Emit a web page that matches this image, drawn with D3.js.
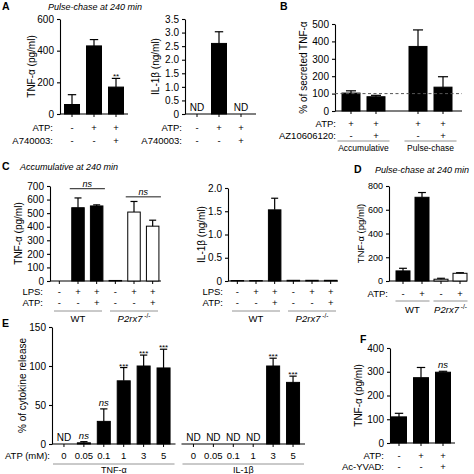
<!DOCTYPE html>
<html lang="en">
  <head>
    <meta charset="UTF-8" />
    <title>d3</title>
    <script src="https://d3js.org/d3.v7.min.js"></script>
    <style>
      body { margin: 0; background: #fff; }
      svg text { font-family: "Liberation Sans", Arial, sans-serif; fill: #000; }
      .axis path, .axis line { stroke: #000; stroke-width: 1.1; }
      .axis text { font-size: 10px; }
    </style>
  </head>
  <body></body>
  <script type="text/javascript">
    var width = 474,
      height = 474;

    // A: pulse-chase at 240 min
    var aAtp = ['-', '+', '+'];
    var aInhib = ['-', '-', '+'];
    var aTnf = [60, 430, 170];
    var aTnfErr = [62, 40, 55];
    var aTnfSig = ['', '', '**'];
    var aIl1b = [null, 2.6, null];
    var aIl1bErr = [0, 0.43, 0];

    // B: % of secreted TNF
    var bGroups = ['Accumulative', 'Pulse-chase'];
    var bAtp = ['+', '+', '+', '+'];
    var bAz = ['-', '+', '-', '+'];
    var bVals = [[103, 82], [371, 137]];
    var bErr = [[13, 8], [95, 60]];

    // C: accumulative at 240 min, WT vs P2rx7-/-
    var cGroups = ['WT', 'P2rx7'];
    var cLps = ['-', '+', '+', '-', '+', '+'];
    var cAtp = ['-', '-', '+', '-', '-', '+'];
    var cTnf = [[0, 540, 553], [4, 508, 404]];
    var cTnfErr = [[0, 72, 8], [0, 78, 44]];
    var cBracket = [680, 620];
    var cIl1b = [[0.01, 0.01, 1.53], [0.015, 0.015, 0.015]];
    var cIl1bErr = [[0, 0, 0.25], [0, 0, 0]];

    // D: pulse-chase at 240 min
    var dGroups = ['WT', 'P2rx7'];
    var dAtp = ['-', '+', '-', '+'];
    var dTnf = [[85, 705], [15, 65]];
    var dErr = [[22, 40], [8, 5]];

    // E: ATP dose response
    var eGroups = ['TNF-α', 'IL-1β'];
    var eDoses = ['0', '0.05', '0.1', '1', '3', '5'];
    var eVals = [[null, 1.5, 29, 81, 100, 97.5], [null, null, null, null, 100, 79]];
    var eErr = [[0, 1.5, 16, 17, 14, 24], [0, 0, 0, 0, 10, 8]];
    var eSig = [['', 'ns', 'ns', '***', '***', '***'], ['', '', '', '', '***', '***']];

    // F: caspase-1 inhibitor
    var fAtp = ['-', '+', '+'];
    var fYvad = ['-', '-', '+'];
    var fTnf = [110, 275, 298];
    var fErr = [15, 43, 4];
    var fSig = ['', '', 'ns'];

    var svg = d3.select('body').append('svg')
      .attr('width', width)
      .attr('height', height);

    // band scale with bars of w px centred in equal slots
    function slots(keys, r0, r1, w) {
      var step = (r1 - r0) / keys.length;
      var p = 1 - w / step;
      return d3.scaleBand().domain(keys).range([r0, r1]).paddingInner(p).paddingOuter(p / 2);
    }

    function panel(c) {
      var y = d3.scaleLinear().domain([0, c.max]).range([c.y0, c.y1]);
      var outer = d3.scaleBand()
        .domain(d3.range(c.values.length))
        .range(c.range)
        .paddingInner(c.groupPad || 0);
      var items = [];
      c.values.forEach(function (vals, gi) {
        var gx = outer(gi);
        var inner = slots(d3.range(vals.length), gx, gx + outer.bandwidth(), c.barW);
        vals.forEach(function (v, bi) {
          items.push({
            gi: gi,
            x: inner(bi),
            w: inner.bandwidth(),
            cx: inner(bi) + inner.bandwidth() / 2,
            v: v,
            e: c.errs ? c.errs[gi][bi] : 0,
            sig: c.sig ? c.sig[gi][bi] : '',
            fill: c.fills ? c.fills[gi] : '#000'
          });
        });
      });

      var g = svg.append('g');
      if (c.ticks) {
        var ax = g.append('g')
          .attr('class', 'axis')
          .attr('transform', 'translate(' + c.axisX + ',0)')
          .call(d3.axisLeft(y).tickValues(c.ticks).tickSize(3).tickSizeOuter(0)
            .tickFormat(c.fmt || d3.format('d')));
        if (c.tickFont) ax.selectAll('text').style('font-size', c.tickFont + 'px');
      }

      // baseline
      if (c.split) {
        outer.domain().forEach(function (gi) {
          g.append('line')
            .attr('x1', outer(gi) - 2).attr('x2', outer(gi) + outer.bandwidth() + 2)
            .attr('y1', y(0)).attr('y2', y(0))
            .attr('stroke', '#000').attr('stroke-width', 1.1);
        });
      } else {
        g.append('line')
          .attr('x1', c.axisX).attr('x2', c.axisEnd)
          .attr('y1', y(0)).attr('y2', y(0))
          .attr('stroke', '#000').attr('stroke-width', 1.1);
      }

      items.forEach(function (d) {
        g.append('line')
          .attr('x1', d.cx).attr('x2', d.cx)
          .attr('y1', y(0)).attr('y2', y(0) + 3)
          .attr('stroke', '#000').attr('stroke-width', 1);
        if (d.v === null) {
          g.append('text').attr('x', d.cx).attr('y', y(0) - 3)
            .attr('text-anchor', 'middle').style('font-size', '10px').text('ND');
          return;
        }
        g.append('rect')
          .attr('x', d.x).attr('y', y(d.v))
          .attr('width', d.w).attr('height', Math.max(0, y(0) - y(d.v)))
          .attr('fill', d.fill).attr('stroke', '#000').attr('stroke-width', 1);
        var top = y(d.v + d.e);
        if (d.e > 0) {
          g.append('line').attr('x1', d.cx).attr('x2', d.cx)
            .attr('y1', y(d.v)).attr('y2', top)
            .attr('stroke', '#000').attr('stroke-width', 1.2);
          g.append('line').attr('x1', d.cx - d.w * 0.28).attr('x2', d.cx + d.w * 0.28)
            .attr('y1', top).attr('y2', top)
            .attr('stroke', '#000').attr('stroke-width', 1.2);
        }
        if (d.sig === 'ns') {
          g.append('text').attr('x', d.cx).attr('y', top - 3)
            .attr('text-anchor', 'middle').style('font-size', '9.5px')
            .style('font-style', 'italic').text('ns');
        } else if (d.sig) {
          g.append('text').attr('x', d.cx).attr('y', top + 1)
            .attr('text-anchor', 'middle').style('font-size', '8px').text(d.sig);
        }
      });

      if (c.yLabel) {
        g.append('text')
          .attr('transform', 'translate(' + c.yLabelX + ',' + (c.y0 + c.y1) / 2 + ') rotate(-90)')
          .attr('text-anchor', 'middle').style('font-size', (c.labelFont || 10) + 'px').text(c.yLabel);
      }
      return { y: y, outer: outer, items: items, g: g };
    }

    function signRows(p, rows, labelX) {
      rows.forEach(function (r) {
        p.g.append('text').attr('x', labelX).attr('y', r.y)
          .attr('text-anchor', 'end').style('font-size', '9.5px').text(r.label);
        p.items.forEach(function (d, i) {
          p.g.append('text').attr('x', d.cx).attr('y', r.y)
            .attr('text-anchor', 'middle').style('font-size', '9.5px').text(r.signs[i]);
        });
      });
    }

    function groupLabels(p, names, lineY, textY, inset, size, shift) {
      names.forEach(function (n, gi) {
        var x0 = p.outer(gi) + inset,
          x1 = p.outer(gi) + p.outer.bandwidth() - inset;
        p.g.append('line').attr('x1', x0).attr('x2', x1)
          .attr('y1', lineY).attr('y2', lineY)
          .attr('stroke', '#888').attr('stroke-width', 0.9);
        var t = p.g.append('text').attr('x', (x0 + x1) / 2 + (shift ? shift[gi] : 0)).attr('y', textY)
          .attr('text-anchor', 'middle').style('font-size', size + 'px');
        if (n === 'P2rx7') {
          t.append('tspan').style('font-style', 'italic').text('P2rx7');
          t.append('tspan').attr('dy', -4).style('font-size', '6.5px').text(' -/-');
        } else {
          t.text(n);
        }
      });
    }

    function title(x, y, letter, tx, text) {
      svg.append('text').attr('x', x).attr('y', y)
        .style('font-size', '10.5px').style('font-weight', 'bold').text(letter);
      if (text) {
        svg.append('text').attr('x', tx).attr('y', y)
          .style('font-size', '9px').style('font-style', 'italic').text(text);
      }
    }

    var oneDec = function (d) { return d === 0 ? '0' : d3.format('.1f')(d); };

    // ---- A ----
    title(2, 10, 'A', 48, 'Pulse-chase at 240 min');
    var pa1 = panel({
      values: [aTnf], errs: [aTnfErr], sig: [aTnfSig],
      max: 600, y0: 114, y1: 19, axisX: 60, axisEnd: 128,
      ticks: [0, 200, 400, 600], range: [61, 127], barW: 15,
      yLabel: 'TNF-α (pg/ml)', yLabelX: 35
    });
    signRows(pa1, [{ label: 'ATP:', y: 131, signs: aAtp }, { label: 'A740003:', y: 144, signs: aInhib }], 53);

    var pa2 = panel({
      values: [aIl1b], errs: [aIl1bErr],
      max: 3.5, y0: 114, y1: 19, axisX: 185, axisEnd: 256,
      ticks: d3.range(0, 3.51, 0.5), fmt: oneDec, range: [186, 252], barW: 15,
      yLabel: 'IL-1β (ng/ml)', yLabelX: 159
    });
    signRows(pa2, [{ label: 'ATP:', y: 131, signs: aAtp }, { label: 'A740003:', y: 144, signs: aInhib }], 182);

    // ---- B ----
    title(280, 10, 'B');
    var pb = panel({
      values: bVals, errs: bErr,
      max: 500, y0: 111, y1: 24, axisX: 335, axisEnd: 462,
      ticks: [0, 100, 200, 300, 400, 500], range: [338.5, 455.5], groupPad: 0.254, barW: 18,
      yLabel: '% of secreted TNF-α', yLabelX: 307
    });
    pb.g.append('line')
      .attr('x1', 335).attr('x2', 462)
      .attr('y1', pb.y(100)).attr('y2', pb.y(100))
      .attr('stroke', '#555').attr('stroke-width', 1).attr('stroke-dasharray', '3,2.5');
    signRows(pb, [{ label: 'ATP:', y: 127, signs: bAtp }, { label: 'AZ10606120:', y: 139, signs: bAz }], 336);
    groupLabels(pb, bGroups, 141, 150.5, -1, 8.5);

    // ---- C ----
    title(2, 170, 'C', 20, 'Accumulative at 240 min');
    var pc1 = panel({
      values: cTnf, errs: cTnfErr, fills: ['#000', '#fff'],
      max: 700, y0: 281, y1: 186, axisX: 50, axisEnd: 161,
      ticks: d3.range(0, 701, 100), range: [50, 162], barW: 12.5,
      yLabel: 'TNF-α (pg/ml)', yLabelX: 22
    });
    cBracket.forEach(function (b, gi) {
      var its = pc1.items.filter(function (d) { return d.gi === gi; });
      var x0 = its[1].x - 2, x1 = its[2].x + its[2].w + 2;
      pc1.g.append('line').attr('x1', x0).attr('x2', x1)
        .attr('y1', pc1.y(b)).attr('y2', pc1.y(b))
        .attr('stroke', '#000').attr('stroke-width', 0.9);
      pc1.g.append('text').attr('x', (x0 + x1) / 2).attr('y', pc1.y(b) - 2)
        .attr('text-anchor', 'middle').style('font-size', '9px')
        .style('font-style', 'italic').text('ns');
    });
    signRows(pc1, [{ label: 'LPS:', y: 295, signs: cLps }, { label: 'ATP:', y: 306, signs: cAtp }], 43);
    groupLabels(pc1, cGroups, 311, 322, 4, 9.5);

    var pc2 = panel({
      values: cIl1b, errs: cIl1bErr, fills: ['#000', '#fff'],
      max: 2, y0: 281, y1: 188, axisX: 228, axisEnd: 338,
      ticks: [0, 0.5, 1, 1.5, 2], fmt: oneDec, range: [228, 340], barW: 12.5,
      yLabel: 'IL-1β (ng/ml)', yLabelX: 205
    });
    signRows(pc2, [{ label: 'LPS:', y: 295, signs: cLps }, { label: 'ATP:', y: 306, signs: cAtp }], 223);
    groupLabels(pc2, cGroups, 311, 322, 4, 9.5);

    // ---- D ----
    title(354, 173, 'D', 375, 'Pulse-chase at 240 min');
    var pd = panel({
      values: dTnf, errs: dErr, fills: ['#000', '#fff'],
      max: 800, y0: 281, y1: 186, axisX: 389, axisEnd: 467,
      ticks: [0, 200, 400, 600, 800], tickFont: 9, range: [393.5, 469.5], groupPad: 0, barW: 14,
      yLabel: 'TNF-α (pg/ml)', yLabelX: 364, labelFont: 9.5
    });
    signRows(pd, [{ label: 'ATP:', y: 297, signs: dAtp }], 388);
    groupLabels(pd, dGroups, 301, 313, 2, 9.5, [0, 0]);

    // ---- E ----
    title(2, 327, 'E');
    var pe = panel({
      values: eVals, errs: eErr, sig: eSig,
      max: 150, y0: 444, y1: 327, axisX: 52, split: true,
      ticks: [0, 50, 100, 150], range: [54, 303], groupPad: 0.077, barW: 13,
      yLabel: '% of cytokine release', yLabelX: 26
    });
    pe.g.append('text').attr('x', 50).attr('y', 459)
      .attr('text-anchor', 'end').style('font-size', '9.5px').text('ATP (mM):');
    pe.items.forEach(function (d, i) {
      pe.g.append('text').attr('x', d.cx).attr('y', 459)
        .attr('text-anchor', 'middle').style('font-size', '9.5px').text(eDoses[i % eDoses.length]);
    });
    groupLabels(pe, eGroups, 464, 473, -1, 9);

    // ---- F ----
    title(360, 343, 'F');
    var pf = panel({
      values: [fTnf], errs: [fErr], sig: [fSig],
      max: 400, y0: 443, y1: 348, axisX: 390, axisEnd: 455,
      ticks: [0, 100, 200, 300, 400], range: [388, 454], barW: 15,
      yLabel: 'TNF-α (pg/ml)', yLabelX: 362
    });
    signRows(pf, [{ label: 'ATP:', y: 459, signs: fAtp }, { label: 'Ac-YVAD:', y: 470, signs: fYvad }], 384);
  </script>
</html>
